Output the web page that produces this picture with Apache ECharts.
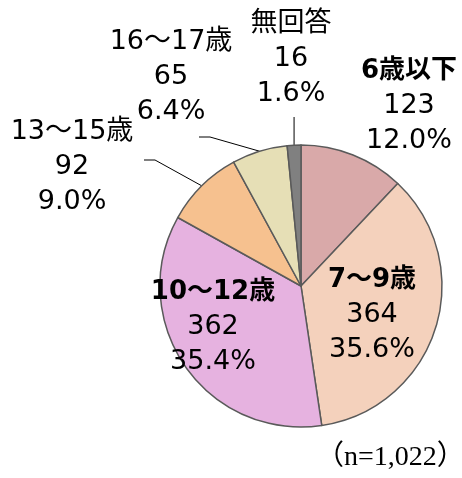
<!DOCTYPE html>
<html>
<head>
<meta charset="utf-8">
<script src="https://cdn.jsdelivr.net/npm/echarts@6/dist/echarts.min.js"></script>
<style>
  html, body { margin: 0; padding: 0; background: #fff; }
  #chart { width: 462px; height: 478px; }
</style>
</head>
<body>
<div id="chart"></div>
<script>
// 年齢区分ごとの回答数
var categories = ['6歳以下', '7～9歳', '10～12歳', '13～15歳', '16～17歳', '無回答']
var counts = [123, 364, 362, 92, 65, 16]
var boldNames = [true, true, true, false, false, false]
var totalLabel = '（n=1,022）'

var colors = ['#d9a9a9', '#f4d1bc', '#e6b2e0', '#f6c18f', '#e6dfb6', '#808080']
// ラベルの中心位置（Excel の配置に合わせる）
var labelPos = [[409, 106], [372, 315], [213, 327], [72, 167], [171, 77], [291, 59]]
// 引き出し線の折れ点と終点
var leaderPts = {
  3: [[155, 160], [144, 160]],
  4: [[210, 137], [199, 137]],
  5: [null, 117]
}

var total = counts.reduce(function(a, b) { return a + b }, 0)

var chart = echarts.init(document.getElementById('chart'))

var fontFam = '"DejaVu Sans", "Noto Sans CJK JP"'

var option = {
  animation: false,
  color: colors,
  graphic: [
    {
      type: 'text',
      left: 316,
      top: 444,
      style: {
        text: totalLabel,
        font: '28px "Liberation Serif", "Noto Sans CJK JP"',
        fill: '#000'
      }
    }
  ],
  series: [
    {
      type: 'pie',
      center: [301, 286],
      radius: 141,
      startAngle: 90,
      clockwise: true,
      itemStyle: {
        borderColor: '#5a5a5a',
        borderWidth: 1.5
      },
      label: {
        show: true,
        position: 'outside',
        width: 160,
        color: '#000',
        lineHeight: 35,
        formatter: function(p) {
          var pct = (p.value / total * 100).toFixed(1)
          var nm = boldNames[p.dataIndex] ? '{nb|' + p.name + '}' : '{n|' + p.name + '}'
          return nm + '\n{v|' + p.value + '}\n{v|' + pct + '%}'
        },
        rich: {
          n: {
            align: 'center',
            fontSize: 27,
            lineHeight: 35,
            fontFamily: fontFam,
            color: '#000'
          },
          nb: {
            align: 'center',
            fontSize: 26,
            lineHeight: 35,
            fontWeight: 'bold',
            fontFamily: fontFam,
            color: '#000'
          },
          v: {
            align: 'center',
            fontSize: 27,
            lineHeight: 35,
            fontFamily: fontFam,
            color: '#000'
          }
        }
      },
      labelLine: {
        show: true,
        lineStyle: { color: '#000', width: 1 }
      },
      labelLayout: function(params) {
        var i = params.dataIndex
        var res = {
          x: labelPos[i][0],
          y: labelPos[i][1],
          align: 'center',
          verticalAlign: 'middle'
        }
        var lp = leaderPts[i]
        if (lp && params.labelLinePoints) {
          var edge = params.labelLinePoints[0]
          if (lp[0] === null) {
            res.labelLinePoints = [edge, [edge[0], lp[1]], [edge[0], lp[1]]]
          } else {
            res.labelLinePoints = [edge, lp[0], lp[1]]
          }
        }
        return res
      },
      data: categories.map(function(name, i) {
        return {
          name: name,
          value: counts[i],
          labelLine: { show: !!leaderPts[i] }
        }
      })
    }
  ]
}

chart.setOption(option)
</script>
</body>
</html>
